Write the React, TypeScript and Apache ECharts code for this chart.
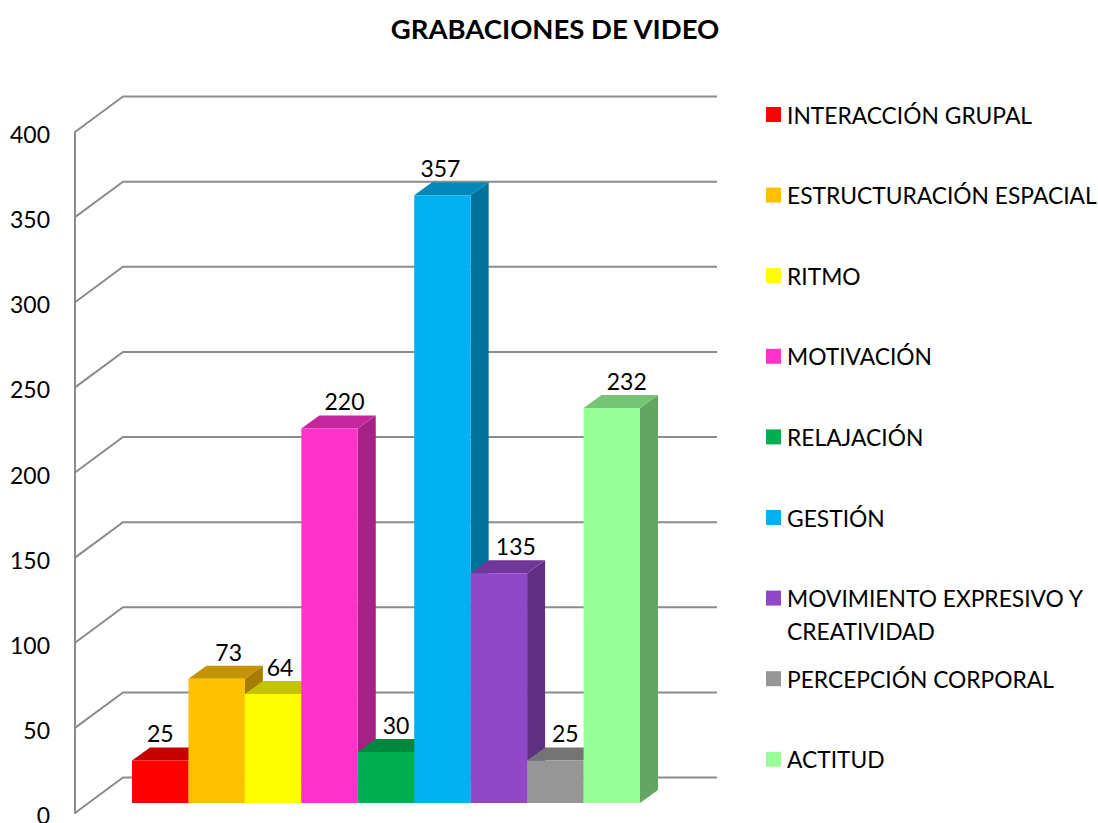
import React, { useEffect, useRef } from "react";
import * as echarts from "echarts";

const titleText = "GRABACIONES DE VIDEO";
const categoryNames = ["Grabaciones"];
const seriesNames = [
  "INTERACCIÓN GRUPAL",
  "ESTRUCTURACIÓN ESPACIAL",
  "RITMO",
  "MOTIVACIÓN",
  "RELAJACIÓN",
  "GESTIÓN",
  "MOVIMIENTO EXPRESIVO Y",
  "PERCEPCIÓN CORPORAL",
  "ACTITUD",
];
const seriesValues = [25, 73, 64, 220, 30, 357, 135, 25, 232];
const seriesColors = ["#FF0000", "#FFC000", "#FFFF00", "#FF33CC", "#00B050", "#00B0F0", "#9148C8", "#969696", "#99FF99"];
const gridValues = [0, 50, 100, 150, 200, 250, 300, 350, 400];

const FONT = "Lato, Carlito, 'Noto Sans', sans-serif";
const labelNudges = [0, 12, 7, 15, 10, -2, 17, 10, 15];

function shade(hex: string, k: number) {
  const n = parseInt(hex.slice(1), 16);
  const c = [(n >> 16) & 255, (n >> 8) & 255, n & 255].map((v) => Math.round(v * k));
  return `rgb(${c[0]},${c[1]},${c[2]})`;
}

const wallSeries = {
  type: "custom",
  name: "_wall",
  silent: true,
  z: 1,
  data: gridValues.map((v) => [0, v]),
  encode: { x: 0, y: 1 },
  renderItem: (_p: any, api: any) => {
    const x0 = 75;
    const y = api.coord([0, api.value(1)])[1];
    return {
      type: "polyline",
      shape: { points: [[x0, y], [x0 + 48, y - 35.5], [717, y - 35.5]] },
      style: { fill: "none", stroke: "#8C8C8C", lineWidth: 2 },
    };
  },
};

const barSeries = seriesNames.map((name, i) => ({
  type: "custom",
  name,
  silent: true,
  z: 2 + i,
  itemStyle: { color: seriesColors[i] },
  data: [[0, seriesValues[i]]],
  encode: { x: 0, y: 1 },
  renderItem: (_p: any, api: any) => {
    const band = api.size([1, 0])[0];
    const w = (band * 0.8552) / seriesNames.length;
    const [cx, ty] = api.coord([0, api.value(1)]);
    const [, by] = api.coord([0, 0]);
    const left = cx + 14 + (i - seriesNames.length / 2) * w;
    const right = left + w;
    const top = ty - 10;
    const bottom = by - 10;
    const dx = 18;
    const dy = -13;
    const color = seriesColors[i];
    return {
      type: "group",
      children: [
        {
          type: "polygon",
          shape: { points: [[right, top], [right + dx, top + dy], [right + dx, bottom + dy], [right, bottom]] },
          style: { fill: shade(color, 0.65) },
        },
        {
          type: "polygon",
          shape: { points: [[left, top], [left + dx, top + dy], [right + dx, top + dy], [right, top]] },
          style: { fill: shade(color, 0.77) },
        },
        {
          type: "rect",
          shape: { x: left, y: top, width: w, height: bottom - top },
          style: { fill: color },
        },
        {
          type: "text",
          style: {
            text: String(api.value(1)),
            x: left + w / 2 + labelNudges[i],
            y: top - 27,
            align: "center",
            verticalAlign: "middle",
            fontFamily: FONT,
            fontSize: 23,
            fill: "#000000",
          },
        },
      ],
    };
  },
}));

const legends = seriesNames.map((name, i) => ({
  data: [name],
  left: 766,
  top: 103 + i * 80.6,
  orient: "vertical",
  padding: 0,
  selectedMode: false,
  icon: "rect",
  itemWidth: 15,
  itemHeight: 15,
  textStyle: { fontFamily: FONT, fontSize: 22.8, color: "#000000", padding: [0, 0, 0, 1] },
}));

export default function App() {
  const ref = useRef<HTMLDivElement>(null);
  useEffect(() => {
    const chart = echarts.init(ref.current!, undefined, { renderer: "svg" });
    chart.setOption({
      animation: false,
      backgroundColor: "#FFFFFF",
      title: {
        text: titleText,
        left: 550,
        top: 9,
        textAlign: "center",
        textStyle: { fontFamily: FONT, fontSize: 27.5, fontWeight: "bold", color: "#000000" },
      },
      legend: legends,
      grid: { left: 75, top: 132, width: 594, height: 681, containLabel: false, outerBoundsMode: "none" },
      xAxis: {
        type: "category",
        data: categoryNames,
        axisLine: { show: false },
        axisTick: { show: false },
        axisLabel: { show: false },
      },
      yAxis: {
        type: "value",
        min: 0,
        max: 400,
        interval: 50,
        splitLine: { show: false },
        axisTick: { show: false },
        axisLine: { show: true, lineStyle: { color: "#8C8C8C", width: 2 } },
        axisLabel: {
          fontFamily: FONT,
          fontSize: 23,
          color: "#000000",
          margin: 25,
          verticalAlign: "top",
          lineHeight: 4,
        },
      },
      graphic: [
        {
          type: "text",
          left: 787,
          top: 619,
          style: { text: "CREATIVIDAD", fontFamily: FONT, fontSize: 22.8, fill: "#000000" },
        },
      ],
      series: [wallSeries, ...barSeries],
    });
    return () => chart.dispose();
  }, []);
  return <div ref={ref} style={{ position: "fixed", left: 0, top: 0, width: 1098, height: 823 }} />;
}
